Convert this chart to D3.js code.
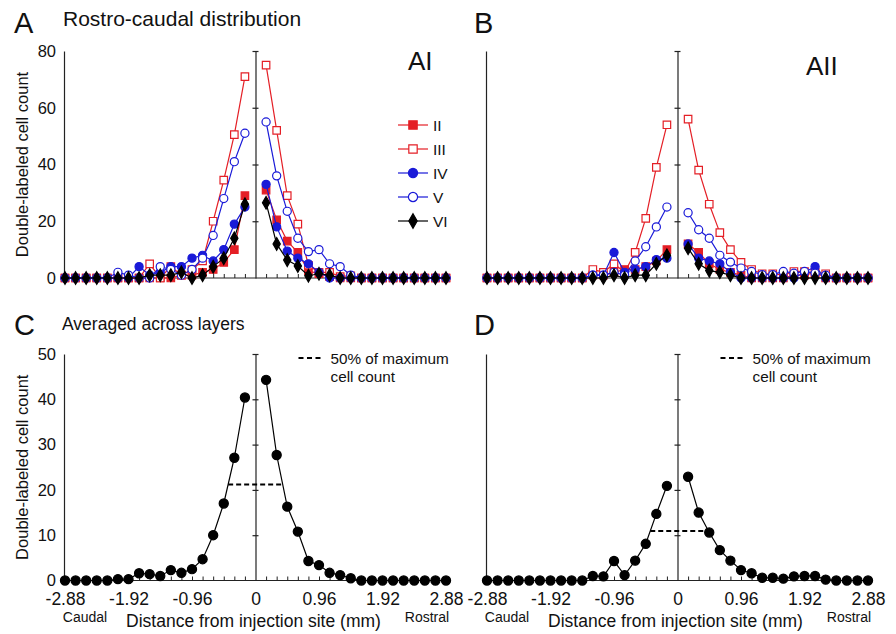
<!DOCTYPE html>
<html>
<head>
<meta charset="utf-8">
<script src="https://cdn.jsdelivr.net/npm/d3@7"></script>
<style>
body { margin: 0; background: #fff; }
svg text { font-family: "Liberation Sans", Arial, Helvetica, sans-serif; fill: #111; }
</style>
</head>
<body>
<svg id="chart" width="896" height="634"></svg>
<script>
// distances of the sections (mm), caudal and rostral of the injection site
var caudalDist = [-2.88, -2.72, -2.56, -2.40, -2.24, -2.08, -1.92, -1.76, -1.60, -1.44, -1.28, -1.12, -0.96, -0.80, -0.64, -0.48, -0.32, -0.16];
var rostralDist = [0.16, 0.32, 0.48, 0.64, 0.80, 0.96, 1.12, 1.28, 1.44, 1.60, 1.76, 1.92, 2.08, 2.24, 2.40, 2.56, 2.72, 2.88];
var xTickLabels = [-2.88, -1.92, -0.96, 0, 0.96, 1.92, 2.88];
var layerNames = ["II", "III", "IV", "V", "VI"];

// AI, per layer (caudal half, rostral half)
var aiCaudalII  = [0, 0, 0, 0, 0, 0, 0, 0, 0, 0, 0, 1, 1, 2, 3, 5.5, 10, 29];
var aiCaudalIII = [0, 0, 0, 0, 0, 0, 0, 0, 5, 0, 4, 1, 3, 6, 20, 34.5, 50.5, 71];
var aiCaudalIV  = [0, 0, 0, 0, 0, 0, 0, 4, 1, 2, 4, 4, 7, 8, 6, 10, 19, 25];
var aiCaudalV   = [0, 0, 0, 0, 0, 2, 1, 0, 0, 4, 3, 1, 3, 7, 15, 28, 41, 51];
var aiCaudalVI  = [0, 0, 0, 0, 0, 0, 0, 0, 1, 1, 1, 2, 0, 1, 4, 7, 14, 26];
var aiRostralII  = [31, 20.5, 13, 9, 2.5, 1.5, 0.5, 0, 0, 0, 0, 0, 0, 0, 0, 0, 0, 0];
var aiRostralIII = [75, 52, 29, 19, 4.5, 2, 2, 0.5, 0.8, 0, 0, 0, 0, 0, 0, 0, 0, 0];
var aiRostralIV  = [33, 18, 9.5, 7, 5, 2, 0, 0, 0, 0, 0, 0, 0, 0, 0, 0, 0, 0];
var aiRostralV   = [55, 36, 23.5, 14, 9.3, 10, 5, 4, 1, 0, 0, 0, 0, 0, 0, 0, 0, 0];
var aiRostralVI  = [26.5, 12, 6.3, 4.2, 0.8, 1.5, 1, 0, 0, 0, 0, 0, 0, 0, 0, 0, 0, 0];

// AII, per layer
var aiiCaudalII  = [0, 0, 0, 0, 0, 0, 0, 0, 0, 0, 1, 1, 2, 3, 3, 4, 6, 10];
var aiiCaudalIII = [0, 0, 0, 0, 0, 0, 0, 0, 0, 0, 3, 2, 5, 2, 9, 21, 39, 54];
var aiiCaudalIV  = [0, 0, 0, 0, 0, 0, 0, 0, 0, 0, 1, 1, 9, 2, 3, 4, 6.5, 7];
var aiiCaudalV   = [0, 0, 0, 0, 0, 0, 0, 0, 0, 0, 1, 1, 2, 1, 6, 11, 18, 25];
var aiiCaudalVI  = [0, 0, 0, 0, 0, 0, 0, 0, 0, 0, 0, 0, 1, 0, 1, 1, 5, 8];
var aiiRostralII  = [12, 9, 5, 3, 2, 1, 0, 0, 0, 0, 1, 1, 2, 0, 0, 0, 0, 0];
var aiiRostralIII = [56, 38, 26, 16, 10, 5.5, 3, 1.5, 1.5, 1, 2.3, 2.3, 1.5, 1.5, 0, 0, 0, 0];
var aiiRostralIV  = [12, 7, 6, 5, 2, 0, 0, 0, 0, 0, 0, 2, 4, 0, 0, 0, 0, 0];
var aiiRostralV   = [23, 17, 14, 8, 5.6, 3.5, 2.3, 1.2, 1.2, 2.3, 1.7, 2.3, 1.7, 1, 0, 0, 0, 0];
var aiiRostralVI  = [10.5, 5, 2.6, 2, 1, 0, 0, 0, 0, 0, 0, 0, 0, 0, 0, 0, 0, 0];

// averaged across layers
var avgAICaudal  = [0, 0, 0, 0, 0, 0.3, 0.3, 1.6, 1.4, 1.0, 2.3, 1.7, 2.5, 4.7, 10, 17, 27.1, 40.4];
var avgAIRostral = [44.3, 27.7, 16.3, 10.8, 4.3, 3.4, 1.7, 1.2, 0.5, 0, 0, 0, 0, 0, 0, 0, 0, 0];
var avgAIICaudal  = [0, 0, 0, 0, 0, 0, 0, 0, 0, 0, 1.0, 0.9, 4.3, 1.2, 4.4, 8.1, 14.7, 20.9];
var avgAIIRostral = [22.9, 15, 10.6, 6.7, 4.4, 2.3, 1.6, 0.6, 0.6, 0.4, 0.9, 1.0, 1.0, 0.2, 0, 0, 0, 0];
var halfMaxAI = 21.2;
var halfMaxAII = 10.9;

var red = "#e41f26", blue = "#1a1ad8";
var layerColors = [red, red, blue, blue, "#000"];
var layerFill = [red, "#fff", blue, "#fff", "#000"];
var layerSymbols = [d3.symbolSquare, d3.symbolSquare, d3.symbolCircle, d3.symbolCircle, d3.symbolDiamond];
var layerSizes = [56, 56, 52, 52, 46];

var svg = d3.select("#chart");

function crossing(dist, vals, level, fromEnd) {
	// where the curve drops below level, walking away from the injection site
	var n = vals.length;
	for (var k = 1; k < n; k++) {
		var i = fromEnd ? n - 1 - k : k;
		var j = fromEnd ? i + 1 : i - 1;
		if (vals[i] < level) {
			var t = (vals[j] - level) / (vals[j] - vals[i]);
			return dist[j] + (dist[i] - dist[j]) * t;
		}
	}
	return dist[fromEnd ? 0 : n - 1];
}

function drawPanel(p) {
	var x = d3.scaleLinear().domain([-2.88, 2.88]).range([p.left, p.right]);
	var y = d3.scaleLinear().domain([0, p.yMax]).range([p.bottom, p.top]);
	var g = svg.append("g");

	// left axis
	var leftAxis = d3.axisLeft(y).tickValues(p.yLabels).tickSize(0).tickSizeOuter(0).tickPadding(8)
		.tickFormat(p.showY ? d3.format("d") : "");
	var la = g.append("g").attr("transform", "translate(" + (p.left - 1) + ",0)").call(leftAxis);
	la.select(".domain").attr("stroke", "#222").attr("stroke-width", 1.2);
	la.selectAll("text").attr("font-size", 16.5).attr("fill", "#111");

	// section ticks along the bottom
	var bottomAxis = d3.axisBottom(x).tickValues(caudalDist.concat(rostralDist)).tickSize(-4).tickSizeOuter(0).tickFormat("");
	var ba = g.append("g").attr("transform", "translate(0," + p.bottom + ")").call(bottomAxis);
	ba.select(".domain").remove();
	ba.selectAll("line").attr("stroke", "#222").attr("stroke-width", 1);
	g.append("line")
		.attr("x1", p.left - 1).attr("x2", p.right + 4)
		.attr("y1", p.bottom).attr("y2", p.bottom)
		.attr("stroke", "#222").attr("stroke-width", 1.2);

	// axis at the injection site
	var midAxis = d3.axisLeft(y).tickValues(p.yLabels.filter(function(d) { return d > 0; }))
		.tickSize(3).tickSizeOuter(0).tickFormat("");
	var ma = g.append("g").attr("transform", "translate(" + x(0) + ",0)").call(midAxis);
	ma.select(".domain").attr("stroke", "#222").attr("stroke-width", 1.2);
	ma.selectAll(".tick line").attr("x1", 3).attr("stroke", "#222").attr("stroke-width", 1.2);

	if (p.xLabels) {
		var labAxis = d3.axisBottom(x).tickValues(xTickLabels).tickSize(0).tickPadding(12.5)
			.tickFormat(function(d) { return d === 0 ? "0" : d.toFixed(2); });
		var lb = g.append("g").attr("transform", "translate(0," + p.bottom + ")").call(labAxis);
		lb.select(".domain").remove();
		lb.selectAll("text").attr("font-size", 17.5).attr("fill", "#111");
		var mid = (x.range()[0] + x.range()[1]) / 2;
		g.append("text").attr("x", p.left + 20).attr("y", p.bottom + 41.5).attr("text-anchor", "middle")
			.attr("font-size", 14).text("Caudal");
		g.append("text").attr("x", mid - 2).attr("y", p.bottom + 46.5).attr("text-anchor", "middle")
			.attr("font-size", 17.5).text("Distance from injection site (mm)");
		g.append("text").attr("x", p.right - 19).attr("y", p.bottom + 41.5).attr("text-anchor", "middle")
			.attr("font-size", 14).text("Rostral");
	}

	var line = d3.line().x(function(d) { return x(d[0]); }).y(function(d) { return y(d[1]); });

	p.series.forEach(function(s) {
		var halves = [d3.zip(caudalDist, s.caudal), d3.zip(rostralDist, s.rostral)];
		halves.forEach(function(pts) {
			g.append("path").datum(pts).attr("d", line)
				.attr("fill", "none").attr("stroke", s.color).attr("stroke-width", s.width);
		});
		halves.forEach(function(pts) {
			g.selectAll(null).data(pts).enter().append("path")
				.attr("d", d3.symbol().type(s.symbol).size(s.size))
				.attr("transform", function(d) { return "translate(" + x(d[0]) + "," + y(d[1]) + ")"; })
				.attr("fill", s.fill).attr("stroke", s.color).attr("stroke-width", 1.2);
		});
	});

	if (p.halfMax !== undefined) {
		var s0 = p.series[0];
		var x1 = crossing(caudalDist, s0.caudal, p.halfMax, true);
		var x2 = crossing(rostralDist, s0.rostral, p.halfMax, false);
		g.append("line").attr("x1", x(x1)).attr("x2", x(x2)).attr("y1", y(p.halfMax)).attr("y2", y(p.halfMax))
			.attr("stroke", "#000").attr("stroke-width", 2).attr("stroke-dasharray", "5,3");
		// legend
		var lx = x(0.65), ly = y(p.yMax) + 4;
		g.append("line").attr("x1", lx).attr("x2", lx + 24).attr("y1", ly).attr("y2", ly)
			.attr("stroke", "#000").attr("stroke-width", 2).attr("stroke-dasharray", "5,3.5");
		g.append("text").attr("x", lx + 32).attr("y", ly + 6).attr("font-size", 15.3).text("50% of maximum");
		g.append("text").attr("x", lx + 32).attr("y", ly + 24).attr("font-size", 15.3).text("cell count");
	}

	if (p.showY) {
		g.append("text")
			.attr("transform", "translate(" + (p.left - 37) + "," + ((p.top + p.bottom) / 2) + ") rotate(-90)")
			.attr("text-anchor", "middle").attr("font-size", 16.5)
			.text("Double-labeled cell count");
	}
}

function layerSeries(caudal, rostral) {
	return layerNames.map(function(name, i) {
		return { name: name, caudal: caudal[i], rostral: rostral[i], color: layerColors[i],
			fill: layerFill[i], symbol: layerSymbols[i], size: layerSizes[i], width: 1.2 };
	});
}

var aiSeries = layerSeries([aiCaudalII, aiCaudalIII, aiCaudalIV, aiCaudalV, aiCaudalVI],
	[aiRostralII, aiRostralIII, aiRostralIV, aiRostralV, aiRostralVI]);
var aiiSeries = layerSeries([aiiCaudalII, aiiCaudalIII, aiiCaudalIV, aiiCaudalV, aiiCaudalVI],
	[aiiRostralII, aiiRostralIII, aiiRostralIV, aiiRostralV, aiiRostralVI]);

function avgSeries(caudal, rostral) {
	return [{ caudal: caudal, rostral: rostral, color: "#000", fill: "#000",
		symbol: d3.symbolCircle, size: 66, width: 1.2 }];
}

var topY = [0, 20, 40, 60, 80];
var botY = [0, 10, 20, 30, 40, 50];

drawPanel({ left: 65, right: 446, top: 51, bottom: 278, yMax: 80, yLabels: topY, showY: true, series: aiSeries });
drawPanel({ left: 487, right: 868, top: 51, bottom: 278, yMax: 80, yLabels: topY, showY: false, series: aiiSeries });
drawPanel({ left: 65, right: 446, top: 354, bottom: 580.5, yMax: 50, yLabels: botY, showY: true, xLabels: true,
	series: avgSeries(avgAICaudal, avgAIRostral), halfMax: halfMaxAI });
drawPanel({ left: 487, right: 868, top: 354, bottom: 580.5, yMax: 50, yLabels: botY, showY: false, xLabels: true,
	series: avgSeries(avgAIICaudal, avgAIIRostral), halfMax: halfMaxAII });

// layer legend in panel A
var leg = svg.append("g");
layerNames.forEach(function(name, i) {
	var ly = 125 + i * 24;
	leg.append("line").attr("x1", 398).attr("x2", 428).attr("y1", ly).attr("y2", ly)
		.attr("stroke", layerColors[i]).attr("stroke-width", 1.2);
	leg.append("path").attr("d", d3.symbol().type(layerSymbols[i]).size(layerSizes[i] + 14)())
		.attr("transform", "translate(413," + ly + ")")
		.attr("fill", layerFill[i]).attr("stroke", layerColors[i]).attr("stroke-width", 1.2);
	leg.append("text").attr("x", 433).attr("y", ly + 5.5).attr("font-size", 15.5).text(name);
});

// panel letters and titles
svg.append("text").attr("x", 14).attr("y", 33).attr("font-size", 29).text("A");
svg.append("text").attr("x", 474).attr("y", 33).attr("font-size", 29).text("B");
svg.append("text").attr("x", 14).attr("y", 335).attr("font-size", 29).text("C");
svg.append("text").attr("x", 474).attr("y", 335).attr("font-size", 29).text("D");
svg.append("text").attr("x", 63).attr("y", 26).attr("font-size", 21).text("Rostro-caudal distribution");
svg.append("text").attr("x", 62).attr("y", 330).attr("font-size", 17.5).text("Averaged across layers");
svg.append("text").attr("x", 408).attr("y", 70).attr("font-size", 26).text("AI");
svg.append("text").attr("x", 806).attr("y", 75).attr("font-size", 26).text("AII");
</script>
</body>
</html>
